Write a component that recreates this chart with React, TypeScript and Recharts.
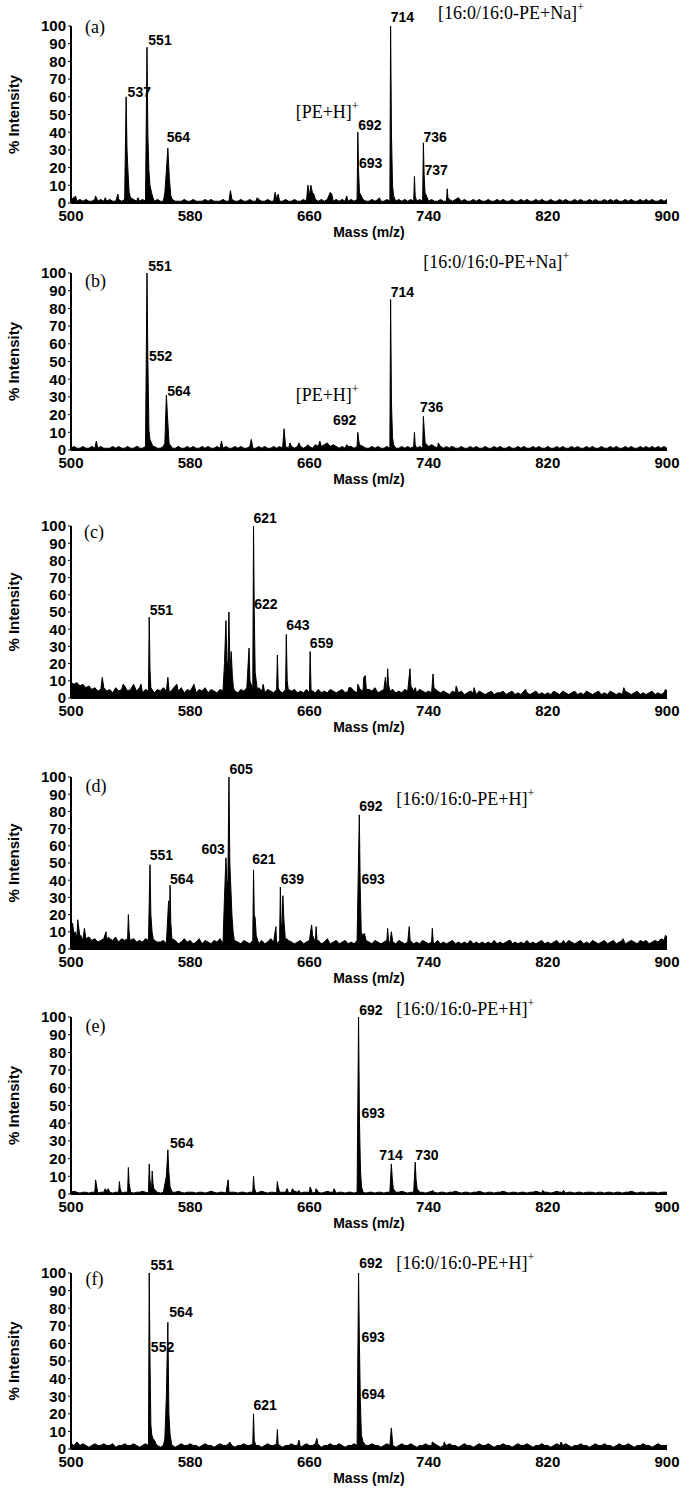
import { ComposedChart, Area, XAxis, YAxis, ReferenceDot } from 'recharts';

type Point = [number, number];
type PeakLabel = { text: string; mz: number; y: number; anchor?: 'start' | 'middle' | 'end' };

const massTicks = [500, 580, 660, 740, 820, 900];
const intensityTicks = [0, 10, 20, 30, 40, 50, 60, 70, 80, 90, 100];

// baseline noise, read every 2 m/z from 500 to 900
const BASE_START = 500;
const BASE_STEP = 2;

const baseA = [
  2, 3, 1, 2, 1, 2, 1, 1, 2, 1, 2, 1, 1, 2, 1, 1, 2, 1, 2, 1,
  1, 2, 1, 1, 2, 1, 2, 1, 1, 2, 1, 1, 2, 1, 2, 1, 1, 1, 2, 1,
  1, 2, 1, 1, 1, 2, 1, 2, 1, 1, 1, 2, 1, 1, 2, 1, 1, 2, 1, 1,
  2, 1, 1, 2, 1, 1, 2, 1, 1, 2, 1, 1, 2, 1, 1, 2, 1, 1, 2, 1,
  2, 3, 2, 1, 2, 1, 2, 1, 1, 2, 1, 2, 1, 1, 2, 1, 2, 1, 2, 1,
  1, 2, 1, 2, 1, 1, 2, 1, 2, 1, 2, 1, 2, 1, 2, 1, 1, 2, 1, 2,
  1, 2, 1, 1, 2, 1, 1, 2, 1, 2, 1, 1, 2, 1, 1, 2, 1, 2, 1, 1,
  2, 1, 1, 2, 1, 2, 1, 1, 2, 1, 1, 2, 1, 2, 1, 1, 2, 1, 2, 1,
  1, 2, 1, 1, 2, 1, 2, 1, 1, 2, 1, 2, 1, 1, 2, 1, 2, 1, 1, 2,
  1, 2, 1, 2, 1, 1, 2, 1, 2, 1, 1, 2, 1, 2, 1, 2, 1, 1, 2, 1,
  2,
];
const peaksA: Point[] = [
  [503, 4], [516.5, 4], [523, 3], [531.5, 5], [537, 60], [537.6, 30], [538.3, 17], [539, 6], [540, 3], [545, 3],
  [551, 88], [551.6, 38], [552.3, 18], [553, 10], [554, 6], [555, 3],
  [563, 6], [564, 18], [565, 31], [566, 14], [567, 4],
  [607, 7], [625, 3], [637, 6], [639, 5], [659, 10], [660, 4], [661, 10], [662, 6], [663, 5],
  [674, 6], [675, 5], [685, 4],
  [692.5, 40], [693, 18], [693.6, 6], [707, 3],
  [714.5, 100], [715.1, 38], [715.8, 10], [716.5, 4],
  [730.5, 15], [731, 4], [736.5, 34], [737, 16], [737.6, 6], [752.5, 8], [753, 3], [760, 3],
];
const tagA: PeakLabel = { text: '(a)', mz: 509.4, y: 96 };
const labelsA: PeakLabel[] = [
  { text: '537', mz: 538, y: 60 },
  { text: '551', mz: 551.9, y: 89.5 },
  { text: '564', mz: 564.2, y: 34.5 },
  { text: '692', mz: 692.8, y: 41 },
  { text: '693', mz: 693.3, y: 20 },
  { text: '714', mz: 714.6, y: 102 },
  { text: '736', mz: 736.5, y: 34.6 },
  { text: '737', mz: 737.2, y: 15.8 },
];
const ionsA: PeakLabel[] = [
  { text: '[PE+H]', mz: 650.8, y: 48 },
  { text: '[16:0/16:0-PE+Na]', mz: 746.3, y: 104 },
];

const baseB = [
  1, 2, 1, 1, 2, 1, 1, 2, 1, 1, 2, 1, 1, 1, 2, 1, 2, 1, 1, 2,
  1, 1, 2, 1, 1, 2, 1, 1, 2, 1, 1, 2, 1, 2, 1, 1, 2, 1, 1, 2,
  1, 2, 1, 1, 2, 1, 2, 1, 1, 2, 1, 1, 2, 1, 1, 2, 1, 2, 1, 1,
  2, 1, 1, 2, 1, 2, 1, 1, 2, 1, 2, 1, 2, 1, 2, 1, 2, 2, 1, 2,
  2, 1, 3, 2, 2, 3, 1, 2, 3, 2, 1, 2, 1, 2, 2, 1, 2, 1, 2, 1,
  1, 2, 1, 2, 1, 1, 2, 1, 2, 1, 1, 2, 1, 2, 1, 2, 1, 2, 1, 3,
  2, 3, 2, 1, 2, 1, 2, 1, 2, 1, 1, 2, 1, 1, 2, 1, 2, 1, 1, 2,
  1, 1, 2, 1, 2, 1, 1, 2, 1, 1, 2, 1, 2, 1, 1, 2, 1, 2, 1, 1,
  2, 1, 1, 2, 1, 2, 1, 1, 2, 1, 2, 1, 1, 2, 1, 2, 1, 1, 2, 1,
  1, 2, 1, 2, 1, 1, 2, 1, 2, 1, 1, 2, 1, 2, 1, 2, 1, 2, 1, 2,
  1,
];
const peaksB: Point[] = [
  [517, 5], [545, 2], [551, 100], [551.6, 50], [552.3, 11], [553, 6], [554, 4], [555, 2],
  [563, 4], [564, 31], [564.7, 20], [565.5, 8], [566.5, 3],
  [601, 5], [621, 6], [643, 12], [647, 4], [653, 4], [659, 3], [667, 5], [672, 4], [685, 3],
  [692.5, 10], [693, 6], [693.6, 3],
  [714.5, 85], [715.1, 26], [715.8, 7], [716.5, 3],
  [730.5, 10], [731, 3], [736.5, 19], [737, 12], [737.7, 4], [746.5, 4], [755, 2],
];
const tagB: PeakLabel = { text: '(b)', mz: 509.4, y: 92 };
const labelsB: PeakLabel[] = [
  { text: '551', mz: 551.9, y: 101.3 },
  { text: '552', mz: 552.3, y: 50.4 },
  { text: '564', mz: 564.6, y: 30.7 },
  { text: '692', mz: 691.5, y: 14, anchor: 'end' },
  { text: '714', mz: 714.6, y: 86.6 },
  { text: '736', mz: 734.2, y: 21.6 },
];
const ionsB: PeakLabel[] = [
  { text: '[PE+H]', mz: 650.8, y: 27.5 },
  { text: '[16:0/16:0-PE+Na]', mz: 736.4, y: 102.6 },
];

const baseC = [
  9, 8, 9, 7, 8, 6, 7, 5, 6, 4, 5, 6, 4, 5, 3, 6, 4, 5, 7, 4,
  5, 8, 4, 6, 3, 5, 4, 7, 3, 5, 4, 6, 4, 3, 5, 7, 4, 6, 3, 5,
  4, 7, 3, 5, 4, 6, 3, 5, 4, 3, 5, 4, 6, 3, 5, 4, 3, 5, 4, 6,
  4, 5, 3, 6, 4, 3, 5, 4, 3, 5, 4, 3, 5, 3, 4, 5, 3, 4, 3, 5,
  3, 4, 3, 5, 3, 4, 3, 5, 4, 3, 4, 5, 3, 4, 6, 4, 3, 5, 4, 3,
  5, 4, 6, 3, 4, 5, 3, 4, 5, 3, 4, 3, 5, 4, 3, 4, 3, 5, 4, 3,
  4, 3, 5, 4, 3, 4, 3, 2, 4, 3, 3, 4, 2, 3, 4, 3, 2, 4, 3, 2,
  3, 4, 2, 3, 3, 4, 2, 3, 4, 2, 3, 2, 4, 3, 2, 3, 4, 2, 3, 2,
  3, 2, 4, 3, 2, 4, 3, 2, 3, 4, 2, 3, 2, 4, 3, 2, 3, 4, 2, 3,
  2, 4, 3, 2, 3, 2, 4, 3, 2, 3, 4, 2, 3, 2, 3, 4, 2, 3, 2, 3,
  4,
];
const peaksC: Point[] = [
  [521, 12], [535, 8], [547, 8], [552.5, 47], [553, 17], [553.6, 6], [565, 12], [571, 8], [582.5, 8],
  [603, 20], [604, 45], [604.6, 22], [605.3, 18], [606, 50], [606.7, 15], [607.5, 27], [608.3, 13], [609, 6],
  [619.5, 29], [620.1, 10], [622.5, 100], [623, 50], [623.6, 15], [624.3, 10], [625, 5], [629, 8],
  [638.5, 25], [639.1, 6], [644.5, 37], [645.1, 10], [645.8, 5], [660.5, 27], [661.1, 5],
  [686.5, 6], [692.5, 8], [696.5, 12], [697.5, 13], [698.2, 5],
  [711, 12], [712.5, 17], [713.1, 8], [727.5, 17], [728.1, 7], [731, 6], [743, 14], [743.6, 6],
  [758.5, 7], [770.5, 6], [805, 5], [871, 6], [899, 5],
];
const tagC: PeakLabel = { text: '(c)', mz: 508.8, y: 92.8 };
const labelsC: PeakLabel[] = [
  { text: '551', mz: 552.8, y: 48.3 },
  { text: '621', mz: 622.5, y: 101.6 },
  { text: '622', mz: 623, y: 52 },
  { text: '643', mz: 644.5, y: 39.5 },
  { text: '659', mz: 660.3, y: 28.9 },
];
const ionsC: PeakLabel[] = [];

const baseD = [
  8, 9, 6, 7, 5, 6, 7, 5, 6, 4, 5, 6, 4, 6, 5, 7, 4, 6, 5, 6,
  5, 6, 4, 5, 4, 6, 5, 3, 5, 4, 4, 5, 3, 6, 4, 5, 3, 4, 6, 4,
  5, 3, 4, 6, 3, 5, 4, 3, 5, 4, 6, 3, 4, 5, 3, 5, 4, 3, 5, 4,
  3, 5, 4, 3, 5, 3, 4, 6, 4, 3, 5, 4, 3, 5, 4, 3, 4, 5, 3, 4,
  5, 3, 4, 5, 3, 4, 6, 3, 4, 5, 3, 4, 5, 3, 4, 3, 5, 4, 3, 5,
  4, 3, 5, 4, 3, 4, 5, 3, 4, 3, 5, 4, 3, 4, 5, 3, 4, 3, 5, 4,
  3, 4, 3, 5, 3, 4, 3, 4, 5, 3, 4, 3, 4, 3, 5, 3, 4, 3, 4, 3,
  4, 3, 5, 3, 4, 3, 4, 5, 3, 4, 3, 4, 3, 5, 3, 4, 3, 4, 5, 3,
  4, 3, 4, 5, 3, 4, 3, 5, 4, 3, 4, 5, 3, 4, 3, 5, 4, 3, 4, 5,
  3, 4, 5, 3, 4, 5, 3, 4, 5, 4, 3, 5, 4, 5, 3, 4, 5, 4, 6, 5,
  7,
];
const peaksD: Point[] = [
  [501, 15], [503, 10], [504.5, 17], [506.5, 8], [509, 12], [523.5, 10], [525, 7], [530.5, 6],
  [538.5, 20], [539, 10], [539.6, 5],
  [553, 49], [553.6, 20], [554.4, 10], [555.2, 6],
  [565.5, 28], [566, 12], [566.5, 37], [567, 15], [567.7, 6],
  [603, 30], [604, 53], [604.6, 38], [605.3, 40], [606, 100], [606.6, 50], [607.3, 35], [608, 20], [608.8, 10], [609.6, 5],
  [622.5, 46], [623, 20], [623.6, 18], [624.3, 8],
  [637.5, 13], [640.5, 36], [641, 15], [641.6, 12], [642.2, 31], [642.8, 18], [643.5, 10], [644.5, 6],
  [661.5, 14], [662.1, 8], [664.5, 13], [665.1, 5],
  [693.5, 78], [694.1, 36], [694.8, 10], [695.6, 8], [697, 9],
  [712.5, 12], [713.1, 5], [715, 10], [727, 13], [727.6, 5], [742.5, 12], [743.1, 4],
  [795, 5], [830.5, 5], [870.5, 6], [899, 8],
];
const tagD: PeakLabel = { text: '(d)', mz: 509.7, y: 91 };
const labelsD: PeakLabel[] = [
  { text: '551', mz: 552.8, y: 51.7 },
  { text: '564', mz: 566.5, y: 38 },
  { text: '603', mz: 603.2, y: 55.4, anchor: 'end' },
  { text: '605', mz: 606.4, y: 102 },
  { text: '621', mz: 621.6, y: 49.2 },
  { text: '639', mz: 640.7, y: 37.8 },
  { text: '692', mz: 693.4, y: 80.4 },
  { text: '693', mz: 695, y: 38 },
];
const ionsD: PeakLabel[] = [{ text: '[16:0/16:0-PE+H]', mz: 718.3, y: 83.7 }];

const baseE = [
  1, 1.5, 1, 0.5, 1, 1, 0.5, 1, 1, 0.5, 1, 1, 1.5, 1, 0.5, 1, 1, 0.5, 1, 1,
  1, 0.5, 1, 1, 1.5, 1, 0.5, 1, 1, 1, 0.5, 1, 1, 0.5, 1, 1, 1.5, 1, 0.5, 1,
  1, 1, 0.5, 1, 1, 0.5, 1, 1.5, 1, 0.5, 1, 1, 0.5, 1, 1, 1, 0.5, 1, 1, 0.5,
  1, 1, 0.5, 1, 1.5, 1, 0.5, 1, 1, 0.5, 1, 1, 1, 0.5, 1, 1.5, 1, 0.5, 1, 1,
  1, 0.5, 1, 1, 0.5, 1, 1.5, 1, 1, 0.5, 1, 1, 0.5, 1, 1, 0.5, 1, 1, 1, 0.5,
  1, 1, 0.5, 1, 1, 0.5, 1, 1, 0.5, 1, 1, 1.5, 1, 0.5, 1, 1, 0.5, 1, 1, 0.5,
  1, 1.5, 1, 0.5, 1, 1, 0.5, 1, 1, 1.5, 1, 0.5, 1, 1, 0.5, 1, 1, 1.5, 1, 0.5,
  1, 1, 0.5, 1, 1, 1.5, 1, 0.5, 1, 1, 0.5, 1, 1, 0.5, 1, 1, 1.5, 1, 0.5, 1,
  1, 0.5, 1, 1.5, 1, 1, 0.5, 1, 1, 0.5, 1, 1, 0.5, 1, 1, 1, 0.5, 1, 1, 0.5,
  1, 1, 0.5, 1, 1, 0.5, 1, 1, 1.5, 1, 0.5, 1, 1, 0.5, 1, 1, 1, 0.5, 1, 1,
  1,
];
const peaksE: Point[] = [
  [516.5, 8], [523, 3], [525, 3], [532.5, 7], [533, 3], [538.5, 15], [539, 6],
  [552.5, 17], [553, 8], [554.5, 13], [555, 6], [555.6, 3],
  [564, 10], [565, 25], [565.7, 12], [566.5, 4],
  [605.5, 8], [622.5, 10], [623, 4], [638.5, 7], [639, 4], [645, 3], [648.5, 3], [653, 2], [660.5, 4], [664.5, 3], [676.5, 3],
  [693, 100], [693.6, 41], [694.3, 13], [695, 4],
  [715, 17], [715.6, 9], [716.3, 3], [731, 18], [731.6, 8], [732.3, 3], [742.5, 2], [816.5, 2], [830.5, 2],
];
const tagE: PeakLabel = { text: '(e)', mz: 509.7, y: 91.7 };
const labelsE: PeakLabel[] = [
  { text: '564', mz: 566.5, y: 25.8 },
  { text: '692', mz: 693.4, y: 101 },
  { text: '693', mz: 695, y: 42.8 },
  { text: '714', mz: 714.8, y: 19.2, anchor: 'middle' },
  { text: '730', mz: 731, y: 19.2 },
];
const ionsE: PeakLabel[] = [{ text: '[16:0/16:0-PE+H]', mz: 718.3, y: 101 }];

const baseF = [
  3, 2, 4, 2, 3, 2, 1, 2, 3, 2, 2, 3, 2, 2, 3, 1, 2, 2, 3, 2,
  2, 3, 2, 1, 2, 3, 2, 2, 3, 2, 1, 2, 2, 3, 2, 1, 2, 3, 2, 2,
  3, 2, 2, 1, 2, 3, 2, 2, 1, 2, 3, 2, 2, 3, 2, 1, 2, 2, 3, 2,
  2, 3, 2, 2, 1, 2, 3, 2, 2, 3, 2, 1, 2, 2, 3, 2, 2, 1, 2, 3,
  2, 2, 3, 2, 1, 2, 2, 3, 2, 2, 3, 2, 1, 2, 2, 3, 2, 2, 1, 2,
  2, 3, 2, 2, 1, 2, 3, 2, 2, 1, 2, 3, 2, 2, 3, 2, 1, 2, 2, 3,
  2, 2, 3, 2, 1, 2, 2, 3, 2, 2, 1, 2, 3, 2, 2, 1, 2, 3, 2, 2,
  3, 2, 1, 2, 2, 3, 2, 2, 1, 2, 3, 2, 2, 3, 2, 1, 2, 2, 3, 2,
  2, 1, 2, 3, 2, 2, 3, 2, 1, 2, 2, 3, 2, 2, 1, 2, 3, 2, 2, 3,
  2, 2, 1, 2, 3, 2, 2, 3, 2, 1, 2, 2, 3, 2, 2, 1, 2, 3, 2, 2,
  2,
];
const peaksF: Point[] = [
  [552.5, 100], [553, 52], [553.6, 14], [554.2, 8], [555, 6], [556, 5], [557, 3],
  [563, 6], [564, 30], [565, 72], [565.7, 20], [566.5, 8], [567.5, 3],
  [606.5, 4], [622.5, 20], [623, 5], [638.5, 11], [639, 3], [653, 5], [665, 6], [665.6, 3],
  [693, 100], [693.6, 58], [694.2, 27], [694.9, 8], [696, 4],
  [715, 12], [742.5, 4], [750.5, 4], [751, 3], [829, 4],
];
const tagF: PeakLabel = { text: '(f)', mz: 509.7, y: 93.2 };
const labelsF: PeakLabel[] = [
  { text: '551', mz: 553.3, y: 101.7 },
  { text: '552', mz: 553.6, y: 55 },
  { text: '564', mz: 566, y: 74.8 },
  { text: '621', mz: 622.5, y: 22.2 },
  { text: '692', mz: 693.4, y: 103 },
  { text: '693', mz: 695, y: 60.9 },
  { text: '694', mz: 695, y: 28.4 },
];
const ionsF: PeakLabel[] = [{ text: '[16:0/16:0-PE+H]', mz: 718.3, y: 102 }];

const SANS = '"Liberation Sans", Arial, sans-serif';
const SERIF = '"Liberation Serif", "Times New Roman", serif';

function buildSpectrum(base: number[], peaks: Point[]) {
  const pts = base
    .map((v, i) => ({ mz: BASE_START + i * BASE_STEP, intensity: v }))
    .filter(p => !peaks.some(([m]) => Math.abs(m - p.mz) < 0.5));
  peaks.forEach(([mz, intensity]) => pts.push({ mz, intensity }));
  return pts.sort((a, b) => a.mz - b.mz);
}

interface PanelProps {
  top: number;
  plotHeight: number;
  base: number[];
  peaks: Point[];
  tag: PeakLabel;
  labels: PeakLabel[];
  ions: PeakLabel[];
}

function SpectrumPanel({ top, plotHeight, base, peaks, tag, labels, ions }: PanelProps) {
  const data = buildSpectrum(base, peaks);
  const tickStyle = { fill: '#000', fontSize: 15, fontWeight: 700, fontFamily: SANS };

  return (
    <div style={{ position: 'absolute', left: 0, top: top - 30 }}>
      <ComposedChart
        width={685}
        height={plotHeight + 75}
        data={data}
        margin={{ top: 30, right: 18, bottom: 5, left: 0 }}
      >
        <XAxis
          type="number"
          dataKey="mz"
          domain={[500, 900]}
          ticks={massTicks}
          interval={0}
          height={40}
          axisLine={{ stroke: '#000', strokeWidth: 2 }}
          tickLine={false}
          tickSize={0}
          tickMargin={7}
          tick={tickStyle}
          label={{ value: 'Mass (m/z)', position: 'insideBottom', offset: 6, fill: '#000', fontSize: 14, fontWeight: 700, fontFamily: SANS }}
        />
        <YAxis
          type="number"
          domain={[0, 100]}
          ticks={intensityTicks}
          interval={0}
          width={71}
          axisLine={{ stroke: '#000', strokeWidth: 2 }}
          tickLine={{ stroke: '#000' }}
          tickSize={3}
          tickMargin={2}
          tick={tickStyle}
          label={{ value: '% Intensity', angle: -90, position: 'insideLeft', offset: 14, fill: '#000', fontSize: 15, fontWeight: 700, fontFamily: SANS, style: { textAnchor: 'middle' } }}
        />
        <Area
          type="linear"
          dataKey="intensity"
          stroke="#000"
          strokeWidth={1}
          fill="#000"
          fillOpacity={1}
          dot={false}
          activeDot={false}
          isAnimationActive={false}
        />
        <ReferenceDot
          x={tag.mz}
          y={tag.y}
          r={0}
          ifOverflow="visible"
          shape={(p: any) => (
            <text x={p.cx} y={p.cy} fontFamily={SERIF} fontSize={18} fill="#000">{tag.text}</text>
          )}
        />
        {labels.map(l => (
          <ReferenceDot
            key={l.text + l.mz}
            x={l.mz}
            y={l.y}
            r={0}
            ifOverflow="visible"
            shape={(p: any) => (
              <text x={p.cx} y={p.cy} textAnchor={l.anchor || 'start'} fontFamily={SANS} fontWeight={700} fontSize={14} fill="#000">
                {l.text}
              </text>
            )}
          />
        ))}
        {ions.map(ion => (
          <ReferenceDot
            key={ion.text}
            x={ion.mz}
            y={ion.y}
            r={0}
            ifOverflow="visible"
            shape={(p: any) => (
              <text x={p.cx} y={p.cy} fontFamily={SERIF} fontSize={18} fill="#000">
                {ion.text}
                <tspan dy={-8} fontSize={12}>+</tspan>
              </text>
            )}
          />
        ))}
      </ComposedChart>
    </div>
  );
}

export default function App() {
  return (
    <div style={{ position: 'relative', width: 685, height: 1495, background: '#fff', overflow: 'hidden' }}>
      <style>{'body{margin:0}'}</style>
      <SpectrumPanel top={26} plotHeight={177} base={baseA} peaks={peaksA} tag={tagA} labels={labelsA} ions={ionsA} />
      <SpectrumPanel top={273} plotHeight={177} base={baseB} peaks={peaksB} tag={tagB} labels={labelsB} ions={ionsB} />
      <SpectrumPanel top={526} plotHeight={172} base={baseC} peaks={peaksC} tag={tagC} labels={labelsC} ions={ionsC} />
      <SpectrumPanel top={777} plotHeight={172} base={baseD} peaks={peaksD} tag={tagD} labels={labelsD} ions={ionsD} />
      <SpectrumPanel top={1017} plotHeight={177} base={baseE} peaks={peaksE} tag={tagE} labels={labelsE} ions={ionsE} />
      <SpectrumPanel top={1273} plotHeight={176} base={baseF} peaks={peaksF} tag={tagF} labels={labelsF} ions={ionsF} />
    </div>
  );
}
